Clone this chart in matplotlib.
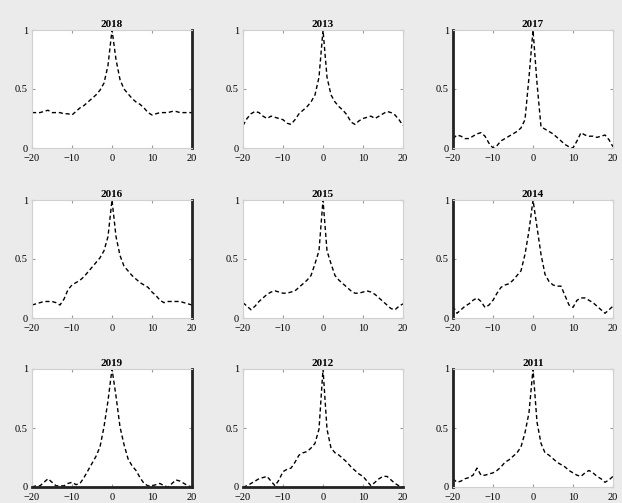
import numpy as np
import matplotlib
matplotlib.use("Agg")
import matplotlib.pyplot as plt

# lags shared by every panel
lags = np.arange(-20, 21)

titles = ["2018", "2013", "2017", "2016", "2015", "2014", "2019", "2012", "2011"]

acf_2018 = [.30, .30, .30, .31, .32, .30, .30, .30, .29, .29, .28, .31, .34, .36, .39, .42, .45, .49, .55, .70, 1.0,
            .75, .58, .50, .46, .42, .39, .37, .34, .30, .28, .29, .30, .30, .30, .31, .31, .30, .30, .30, .30]
acf_2013 = [.19, .25, .29, .31, .30, .27, .25, .27, .26, .25, .24, .21, .20, .24, .29, .32, .35, .39, .45, .60, 1.0,
            .60, .45, .39, .35, .32, .28, .22, .20, .23, .25, .26, .27, .25, .27, .29, .31, .30, .28, .24, .19]
acf_2017 = [.08, .11, .10, .08, .08, .10, .12, .13, .10, .04, .00, .02, .06, .08, .10, .12, .14, .17, .24, .60, 1.0,
            .55, .18, .16, .14, .12, .09, .06, .03, .01, .00, .06, .13, .11, .10, .10, .09, .10, .11, .07, .01]
acf_2016 = [.11, .12, .13, .14, .14, .14, .13, .11, .16, .24, .28, .30, .32, .35, .39, .43, .47, .51, .57, .69, 1.0,
            .69, .53, .44, .40, .36, .33, .30, .28, .26, .22, .19, .15, .13, .14, .14, .14, .14, .13, .12, .11]
acf_2015 = [.13, .10, .07, .10, .14, .17, .20, .22, .23, .22, .21, .21, .22, .23, .26, .29, .32, .36, .46, .57, 1.0,
            .57, .46, .36, .32, .29, .26, .23, .21, .21, .22, .23, .22, .20, .17, .14, .11, .08, .07, .10, .12]
acf_2014 = [.10, .04, .07, .10, .12, .15, .17, .14, .09, .11, .15, .21, .26, .28, .29, .32, .36, .40, .54, .74, 1.0,
            .77, .54, .37, .31, .28, .27, .27, .19, .11, .09, .15, .17, .17, .15, .13, .10, .07, .04, .07, .10]
acf_2019 = [.00, .01, .01, .04, .07, .04, .01, .01, .01, .03, .04, .02, .03, .08, .14, .20, .26, .34, .51, .73, 1.0,
            .77, .51, .36, .24, .18, .14, .08, .03, .01, .01, .02, .03, .01, .00, .03, .06, .05, .03, .01, .00]
acf_2012 = [.00, .01, .03, .05, .07, .08, .09, .05, .01, .06, .13, .15, .16, .21, .27, .29, .30, .33, .37, .49, 1.0,
            .49, .33, .29, .27, .24, .21, .17, .14, .11, .09, .05, .01, .04, .07, .09, .09, .06, .03, .01, .00]
acf_2011 = [.07, .04, .05, .07, .08, .10, .16, .10, .10, .11, .12, .14, .17, .21, .23, .26, .29, .34, .46, .63, 1.0,
            .55, .37, .29, .27, .24, .21, .19, .17, .14, .12, .10, .09, .12, .14, .12, .09, .07, .04, .06, .09]

series = [acf_2018, acf_2013, acf_2017, acf_2016, acf_2015, acf_2014, acf_2019, acf_2012, acf_2011]

xticks = [-20, -10, 0, 10, 20]
yticks = [0, 0.5, 1]
yticklabels = ["0", "0.5", "1"]

W, H = 622, 503
col_left = [32, 243, 453]
row_top = [30, 200, 369]
ax_w, ax_h = 160, 118

# which spines are drawn heavy in the reference
heavy = {0: ["right"], 2: ["left"], 3: ["right"], 5: ["left"],
         6: ["right", "bottom"], 7: ["bottom"], 8: ["left"]}

fig = plt.figure(figsize=(W / 100, H / 100), dpi=100)
fig.patch.set_facecolor("#ebebeb")

for i, (name, vals) in enumerate(zip(titles, series)):
    r, c = divmod(i, 3)
    ax = fig.add_axes([col_left[c] / W, 1 - (row_top[r] + ax_h) / H, ax_w / W, ax_h / H])
    ax.plot(lags, vals, color="black", lw=1.0, linestyle=(0, (3, 2)))
    ax.set_xlim(-20, 20)
    ax.set_ylim(0, 1)
    ax.set_xticks(xticks)
    ax.set_yticks(yticks)
    ax.set_yticklabels(yticklabels)
    ax.tick_params(direction="in", length=2, labelsize=7.5, top=True, right=True,
                   color="#999999")
    ax.tick_params(axis="x", pad=4)
    ax.tick_params(axis="y", pad=3)
    for lab in ax.get_xticklabels() + ax.get_yticklabels():
        lab.set_family("Liberation Serif")
    for side, sp in ax.spines.items():
        sp.set_color("#d0d0d0")
        sp.set_linewidth(0.8)
    for side in heavy.get(i, []):
        ax.spines[side].set_color("#222222")
        ax.spines[side].set_linewidth(2.0)
    ax.set_title(name, fontsize=8, fontweight="bold", family="Liberation Serif", pad=2)

fig.savefig("out.png", dpi=100, facecolor=fig.get_facecolor())
